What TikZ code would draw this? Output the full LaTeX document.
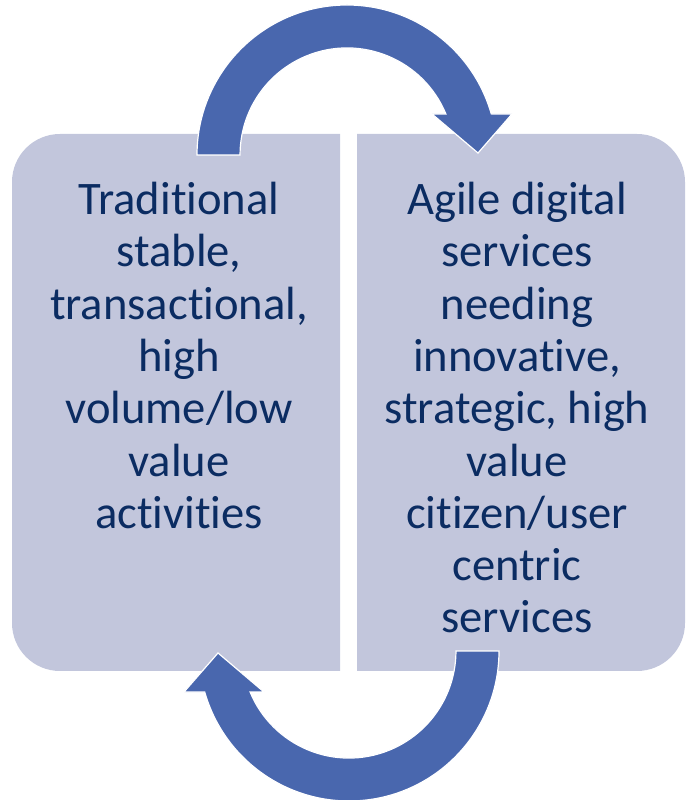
\documentclass[tikz,border=0pt]{standalone}
\usepackage{fontspec}
\setmainfont{Carlito}[Ligatures=NoCommon]
\definecolor{panelgrey}{HTML}{C2C6DC}
\definecolor{arrowblue}{HTML}{4967AE}
\definecolor{textnavy}{HTML}{0B2C62}

\begin{document}
\begin{tikzpicture}[x=1pt, y=1pt,
    panel/.style={fill=panelgrey},
    paneltext/.style={text=textnavy, align=center, inner sep=0pt,
      font=\fontsize{46.6}{52.3}\selectfont},
    cyclearrow/.style={fill=arrowblue, draw=white, line width=1.2pt}]
    \useasboundingbox (0,0) rectangle (685,800);

    % the two halves of the split panel, rounded on the outside only
    \fill[panel] (340,129) -- (340,666) -- (60,666)
      arc[start angle=90, end angle=180, radius=48pt] -- (12,177)
      arc[start angle=180, end angle=270, radius=48pt] -- cycle;
    \fill[panel] (357,129) -- (357,666) -- (637,666)
      arc[start angle=90, end angle=0, radius=48pt] -- (685,177)
      arc[start angle=0, end angle=-90, radius=48pt] -- cycle;

    \node[paneltext, anchor=north] (traditional) at (179,618)
      {Traditional\\stable,\\transactional,\\high\\volume/low\\value\\activities};
    \node[paneltext, anchor=north] (agile) at (517,618)
      {Agile digital\\services\\needing\\innovative,\\strategic, high\\value\\citizen/user\\centric\\services};

    % top arrow, and the same one turned half round for the bottom
    \foreach \flip in {0,180}
      \filldraw[cyclearrow, rotate around={\flip:(348,397)}]
        (197,645) arc[start angle=180, end angle=15.9, radius=150pt]
        -- (512,686) -- (478,647) -- (432,686) -- (445.9,686)
        arc[start angle=22.5, end angle=180, radius=107pt] -- cycle;

\end{tikzpicture}
\end{document}
